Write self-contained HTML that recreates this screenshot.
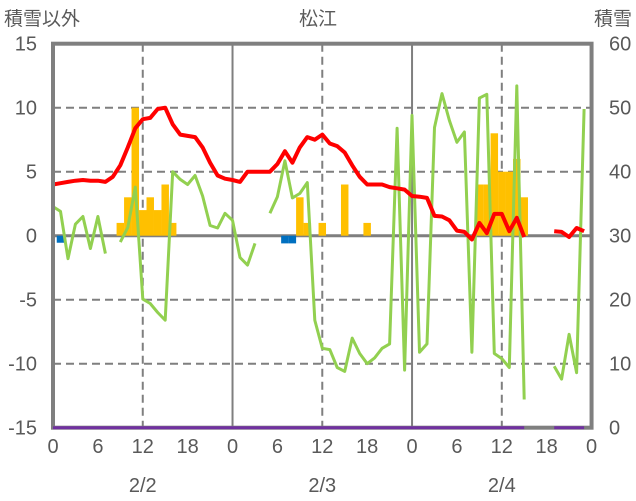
<!DOCTYPE html>
<html><head><meta charset="utf-8">
<style>
html,body{margin:0;padding:0;background:#fff;}
svg{display:block;font-family:"Liberation Sans Narrow","Liberation Sans","Noto Sans CJK JP",sans-serif;}
</style></head>
<body>
<svg id="chart" width="636" height="501" viewBox="0 0 636 501" xmlns="http://www.w3.org/2000/svg">
<text x="4" y="25" font-size="19" fill="#595959" font-family="'Liberation Sans','Noto Sans CJK JP',sans-serif">積雪以外</text>
<text x="318" y="25" font-size="19" fill="#595959" text-anchor="middle" font-family="'Liberation Sans','Noto Sans CJK JP',sans-serif">松江</text>
<text x="632" y="25" font-size="19" fill="#595959" text-anchor="end" font-family="'Liberation Sans','Noto Sans CJK JP',sans-serif">積雪</text>
<g id="grid"></g>
<g id="bars"></g>
<g id="lines"></g>
<g id="axes"></g>
</svg>
<script>
const hours = Array.from({length:72},(_,i)=>i);
const temperature = [4.0,4.1,4.2,4.3,4.35,4.3,4.3,4.2,4.6,5.5,6.9,8.4,9.1,9.2,9.9,10.0,8.7,7.9,7.8,7.7,6.9,5.7,4.7,4.45,
4.35,4.2,5.0,5.0,5.0,5.0,5.6,6.6,5.7,6.9,7.7,7.5,7.9,7.2,7.0,6.5,5.5,4.6,4.0,4.0,4.0,3.8,3.7,3.6,
3.1,3.05,2.95,1.55,1.5,1.2,0.4,0.3,-0.3,1.0,0.2,1.7,1.7,0.35,1.4,-0.1,null,null,null,0.35,0.3,-0.1,0.6,0.35];
const greenSeries = [2.27,1.9,-1.8,0.9,1.5,-1.0,1.5,-1.4,null,-0.5,0.65,3.8,-4.95,-5.3,-6.0,-6.6,5.0,4.4,4.0,4.7,3.1,0.8,0.6,1.75,
1.2,-1.7,-2.3,-0.6,null,1.75,3.05,5.85,2.95,3.3,4.15,-6.6,-8.8,-8.9,-10.3,-10.6,-8.0,-9.2,-10.0,-9.55,-8.8,-8.45,8.4,-10.5,
9.4,-9.1,-8.45,8.45,11.1,9.0,7.3,8.1,-9.1,10.75,11.05,-9.2,-9.6,-10.3,11.7,-12.8,null,null,null,-10.2,-11.2,-7.7,-10.7,9.9];
const snowfallHours = [9,10,11,12,13,14,15,16,33,34,36,39,42,57,58,59,60,61,62,63];
const snowfallValues = [2,6,20,4,6,4,8,2,6,2,2,8,2,8,8,16,10,10,12,6];
const negHours = [1,31,32];
const negValues = [-0.55,-0.6,-0.6];
const snowDepth = hours.map(h => (h>=64 && h<=66) ? null : 0);
const leftTicks = [15,10,5,0,-5,-10,-15];
const rightTicks = [60,50,40,30,20,10,0];
const hourTicks = [0,6,12,18,24,30,36,42,48,54,60,66,72];
const hourLabels = ["0","6","12","18","0","6","12","18","0","6","12","18","0"];
const dateLabels = ["2/2","2/3","2/4"];
const dateCenters = [12,36,60];

const X0=53, PX=7.48, Y0=235.7, PY=12.8;
const xS = h => X0 + h*PX;
const yL = v => Y0 - v*PY;
const yR = v => yL((v-30)/2);
const NS="http://www.w3.org/2000/svg";
function mk(tag, parent, attrs){const e=document.createElementNS(NS,tag);for(const k in attrs)e.setAttribute(k,attrs[k]);document.getElementById(parent).appendChild(e);return e;}

// grid
leftTicks.forEach(v=>{
  if(v===15||v===-15||v===0) return;
  const l=mk('line','grid',{x1:X0,x2:xS(72),y1:yL(v),y2:yL(v),stroke:'#7f7f7f','stroke-width':2,'stroke-dasharray':'8,5'});
  
  
});
[12,36,60].forEach(h=>{
  const l=mk('line','grid',{x1:xS(h),x2:xS(h),y1:yL(15),y2:yL(-15),stroke:'#7f7f7f','stroke-width':2,'stroke-dasharray':'8,5'});
  
  
});
[24,48].forEach(h=>{
  const l=mk('line','grid',{x1:xS(h),x2:xS(h),y1:yL(15),y2:yL(-15),stroke:'#7f7f7f','stroke-width':2});
  
  
});

// bars
snowfallHours.forEach((h,i)=>{
  const v=snowfallValues[i];
  const top=yR(30+v), base=yL(0);
  const r=mk('rect','bars',{x:xS(h)-PX/2,y:top,width:PX,height:base-top,fill:'#ffc000'});
  
  
});
negHours.forEach((h,i)=>{
  const b=yL(negValues[i]);
  const r=mk('rect','bars',{x:xS(h)-PX/2,y:yL(0),width:PX,height:b-yL(0),fill:'#0070c0'});
  
  
});

// zero line
const z=mk('line','grid',{x1:X0,x2:xS(72),y1:yL(0),y2:yL(0),stroke:'#7f7f7f','stroke-width':3});



function pathOf(arr, yf){
  let d='', pen=false;
  arr.forEach((v,h)=>{
    if(v===null){pen=false;return;}
    d += (pen?'L':'M') + xS(h).toFixed(1)+','+yf(v).toFixed(1);
    pen=true;
  });
  return d;
}
const g=mk('path','lines',{d:pathOf(greenSeries,yL),fill:'none',stroke:'#92d050','stroke-width':3,'stroke-linejoin':'round'});


const t=mk('path','lines',{d:pathOf(temperature,yL),fill:'none',stroke:'#ff0000','stroke-width':4,'stroke-linejoin':'round'});



// frame
const fr=mk('rect','axes',{x:X0,y:yL(15),width:xS(72)-X0,height:yL(-15)-yL(15),fill:'none',stroke:'#7f7f7f','stroke-width':4});


const p=mk('path','axes',{d:pathOf(snowDepth,yR),fill:'none',stroke:'#7030a0','stroke-width':3});



// tick labels
leftTicks.forEach(v=>{
  const e=mk('text','axes',{x:37,y:yL(v)+7,'font-size':20,fill:'#595959','text-anchor':'end'});
  e.textContent=v;
  
  
});
rightTicks.forEach(v=>{
  const e=mk('text','axes',{x:609,y:yR(v)+7,'font-size':20,fill:'#595959','text-anchor':'start'});
  e.textContent=v;
  
  
});
hourTicks.forEach((h,i)=>{
  const e=mk('text','axes',{x:xS(h),y:453,'font-size':20,fill:'#595959','text-anchor':'middle'});
  e.textContent=hourLabels[i];
  
  
});
dateLabels.forEach((d,i)=>{
  const e=mk('text','axes',{x:xS(dateCenters[i]),y:492,'font-size':20,fill:'#595959','text-anchor':'middle'});
  e.textContent=d;
  
  
});
</script>
</body></html>
